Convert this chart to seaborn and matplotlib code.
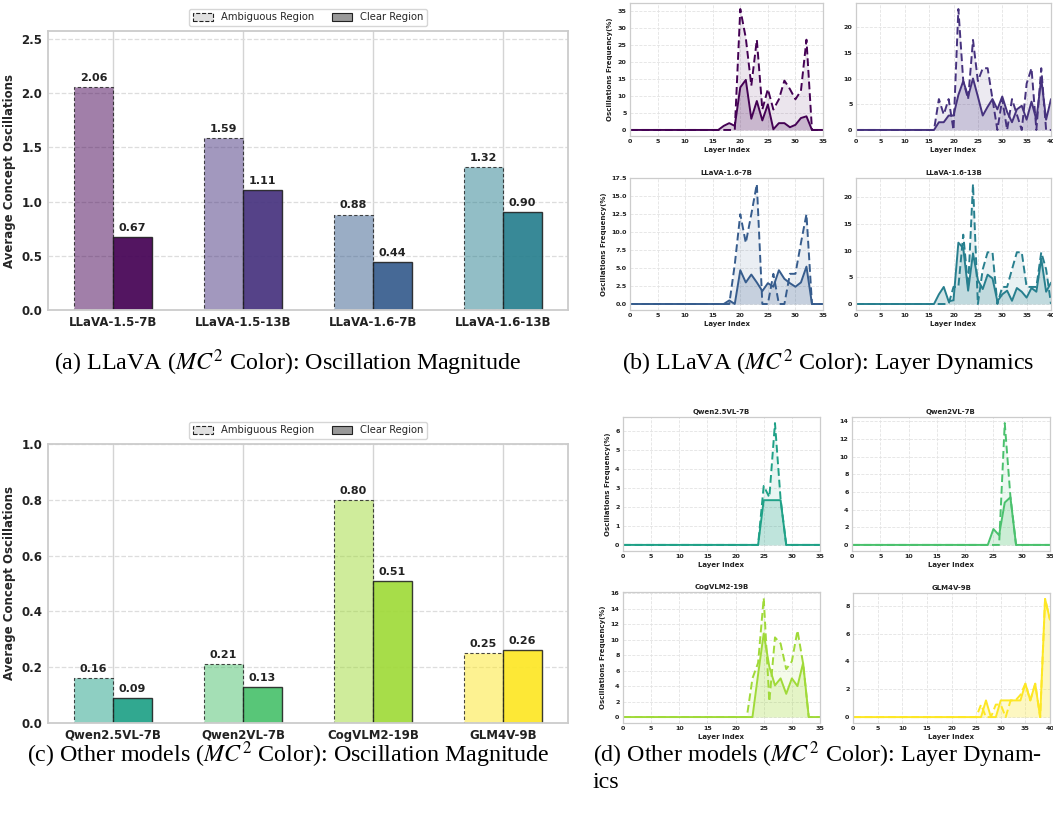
import numpy as np
import pandas as pd
import matplotlib
matplotlib.use("Agg")
import matplotlib.pyplot as plt
import seaborn as sns
from matplotlib.patches import Patch
from matplotlib.colors import to_rgba
from matplotlib.ticker import MultipleLocator

# ---------------- data ----------------
llava_models = ["LLaVA-1.5-7B", "LLaVA-1.5-13B", "LLaVA-1.6-7B", "LLaVA-1.6-13B"]
llava_amb = [2.06, 1.59, 0.88, 1.32]
llava_clr = [0.67, 1.11, 0.44, 0.90]

other_models = ["Qwen2.5VL-7B", "Qwen2VL-7B", "CogVLM2-19B", "GLM4V-9B"]
other_amb = [0.16, 0.21, 0.80, 0.25]
other_clr = [0.09, 0.13, 0.51, 0.26]

# layer dynamics (oscillation frequency %, per layer index)
l15_7b_amb = [0, 0, 0, 0, 0, 0, 0, 0, 0, 0, 0, 0, 0, 0, 0, 0, 0, 0, 0, 0,
              35.5, 27, 13, 26.5, 6, 12, 6, 9, 14.5, 12, 9, 11.5, 26.5, 0, 0, 0]
l15_7b_clr = [0, 0, 0, 0, 0, 0, 0, 0, 0, 0, 0, 0, 0, 0, 0, 0, 0, 1.2, 2, 1.2,
              12.5, 14.7, 3.3, 8.5, 2.8, 7.5, 0.2, 2, 2, 0.8, 1.5, 3.5, 4, 0, 0, 0]

l15_13b_amb = [0, 0, 0, 0, 0, 0, 0, 0, 0, 0, 0, 0, 0, 0, 0, 0, 0, 6, 3, 6,
               0, 23.5, 9.5, 6, 17.5, 9.5, 12, 12, 6, 0, 6, 0, 6, 3, 0, 9,
               12, 0, 12, 0, 0]
l15_13b_clr = [0, 0, 0, 0, 0, 0, 0, 0, 0, 0, 0, 0, 0, 0, 0, 0, 0, 1.5, 1.5, 2.8,
               2.8, 6.8, 9.5, 6.5, 10, 6.5, 2.8, 4.5, 6, 4, 6.5, 3.5, 1.5, 4, 4.7, 2,
               5.5, 2, 10, 2, 6]

l16_7b_amb = [0, 0, 0, 0, 0, 0, 0, 0, 0, 0, 0, 0, 0, 0, 0, 0, 0, 0, 0, 5.5,
              12.5, 8.5, 12.5, 16.7, 0, 0, 4.2, 0, 0, 4.2, 4.2, 8.5, 12.5, 0, 0, 0]
l16_7b_clr = [0, 0, 0, 0, 0, 0, 0, 0, 0, 0, 0, 0, 0, 0, 0, 0, 0, 0, 0.5, 0,
              4.7, 3, 4.1, 3, 1.8, 2.9, 2.4, 4.7, 3.5, 2.9, 2.4, 3, 5.2, 0, 0, 0]

l16_13b_amb = [0, 0, 0, 0, 0, 0, 0, 0, 0, 0, 0, 0, 0, 0, 0, 0, 0, 0, 0, 0,
               3.2, 3.2, 13, 3.2, 22.5, 0, 6.5, 9.7, 9.7, 0, 3.2, 3.2, 6.5, 9.7, 9.7, 3.2,
               3.2, 3.2, 9.7, 6.5, 0]
l16_13b_clr = [0, 0, 0, 0, 0, 0, 0, 0, 0, 0, 0, 0, 0, 0, 0, 0, 0, 1.8, 3.2, 0.5,
               0.7, 11.5, 10.5, 2.5, 9.5, 4.5, 2.8, 5.5, 4.8, 0.5, 1.8, 2.5, 0.6, 3, 2.3, 1.2,
               3, 2.3, 8.5, 2.3, 4]

qwen25_amb = [0, 0, 0, 0, 0, 0, 0, 0, 0, 0, 0, 0, 0, 0, 0, 0, 0, 0, 0, 0,
              0, 0, 0, 0, 0, 3.1, 2.5, 6.4, 2.4, 0, 0, 0, 0, 0, 0, 0]
qwen25_clr = [0, 0, 0, 0, 0, 0, 0, 0, 0, 0, 0, 0, 0, 0, 0, 0, 0, 0, 0, 0,
              0, 0, 0, 0, 0, 2.35, 2.35, 2.35, 2.35, 0, 0, 0, 0, 0, 0, 0]

qwen2_amb = [0, 0, 0, 0, 0, 0, 0, 0, 0, 0, 0, 0, 0, 0, 0, 0, 0, 0, 0, 0,
             0, 0, 0, 0, 0, 0, 0, 13.8, 5.5, 0, 0, 0, 0, 0, 0, 0]
qwen2_clr = [0, 0, 0, 0, 0, 0, 0, 0, 0, 0, 0, 0, 0, 0, 0, 0, 0, 0, 0, 0,
             0, 0, 0, 0, 0, 1.8, 1.1, 4.8, 5.4, 0, 0, 0, 0, 0, 0, 0]

cog_amb = [0, 0, 0, 0, 0, 0, 0, 0, 0, 0, 0, 0, 0, 0, 0, 0, 0, 0, 0, 0,
           0, 0, 0, 5, 7, 15.4, 2, 10.3, 9.5, 6.2, 7.2, 11.2, 6.9, 0, 0, 0]
cog_clr = [0, 0, 0, 0, 0, 0, 0, 0, 0, 0, 0, 0, 0, 0, 0, 0, 0, 0, 0, 0,
           0, 0, 0, 0, 5.5, 10.8, 6.5, 4.1, 5, 3, 5, 4, 7, 0, 0, 0]

glm_amb = [0, 0, 0, 0, 0, 0, 0, 0, 0, 0, 0, 0, 0, 0, 0, 0, 0, 0, 0, 0,
           0, 0, 0, 0, 0, 0, 0.9, 0, 0, 0.9, 0.9, 0, 1.2, 1.2, 1.6, 2.4,
           1.2, 2.4, 0, 8.5, 7]
glm_clr = [0, 0, 0, 0, 0, 0, 0, 0, 0, 0, 0, 0, 0, 0, 0, 0, 0, 0, 0, 0,
           0, 0, 0, 0, 0, 0, 0, 1.2, 0, 0, 1.2, 1.2, 1.2, 1.2, 1.2, 2.4,
           1.2, 2.4, 0, 8.5, 7]

captions = [
    r"(a) LLaVA ($MC^2$ Color): Oscillation Magnitude",
    r"(b) LLaVA ($MC^2$ Color): Layer Dynamics",
    r"(c) Other models ($MC^2$ Color): Oscillation Magnitude",
    r"(d) Other models ($MC^2$ Color): Layer Dynam-",
    "ics",
]

# ---------------- style ----------------
sns.set_theme(style="whitegrid")
plt.rcParams["font.family"] = ["DejaVu Sans"]
plt.rcParams["mathtext.fontset"] = "stix"

colors = [plt.cm.viridis(v) for v in np.linspace(0, 1, 8)]
llava_colors = colors[:4]
other_colors = colors[4:]

W, H = 1053, 817
fig = plt.figure(figsize=(W / 100, H / 100), dpi=100)


def add_ax(x0, y0, x1, y1):
    return fig.add_axes([x0 / W, 1 - y1 / H, (x1 - x0) / W, (y1 - y0) / H])


def bar_panel(ax, models, amb, clr, cols):
    df = pd.DataFrame({
        "Model": models + models,
        "Value": amb + clr,
        "Region": ["Ambiguous Region"] * len(models) + ["Clear Region"] * len(models),
    })
    ax.set_axisbelow(True)
    sns.barplot(data=df, x="Model", y="Value", hue="Region", width=0.6,
                errorbar=None, saturation=1, legend=False, ax=ax)
    c_amb, c_clr = ax.containers[0], ax.containers[1]
    for i, (pa, pc) in enumerate(zip(c_amb, c_clr)):
        pa.set_facecolor(to_rgba(cols[i], 0.5))
        pa.set_edgecolor((0.1, 0.1, 0.1, 0.8))
        pa.set_linestyle((0, (3, 2)))
        pa.set_linewidth(0.8)
        pc.set_facecolor(to_rgba(cols[i], 0.92))
        pc.set_edgecolor((0.1, 0.1, 0.1, 0.85))
        pc.set_linewidth(1.0)
    for cont in (c_amb, c_clr):
        ax.bar_label(cont, fmt="%.2f", padding=3, fontsize=8, fontweight="bold",
                     color="#222222")
    ax.set_ylim(0, max(amb + clr) * 1.25)
    ax.set_xlim(-0.5, len(models) - 0.5)
    ax.set_xlabel("")
    ax.set_ylabel("Average Concept Oscillations", fontsize=8.5, fontweight="bold")
    ax.grid(axis="y", linestyle="--", color="#dddddd", linewidth=0.9)
    ax.grid(axis="x", linestyle="-", color="#d4d4d4", linewidth=1.0)
    ax.tick_params(axis="both", labelsize=8.5, length=0, pad=4)
    for t in ax.get_xticklabels() + ax.get_yticklabels():
        t.set_fontweight("bold")
        t.set_color("#222222")
    for s in ax.spines.values():
        s.set_color("#cccccc")
        s.set_linewidth(1.3)
    handles = [Patch(facecolor="#e0e0e0", edgecolor="#222222", linestyle="--",
                     linewidth=0.8, label="Ambiguous Region"),
               Patch(facecolor="#999999", edgecolor="#222222", linewidth=0.8,
                     label="Clear Region")]
    leg = ax.legend(handles=handles, loc="lower center", bbox_to_anchor=(0.5, 1.018),
                    ncol=2, fontsize=7.2, frameon=True, borderaxespad=0,
                    handlelength=2.0, handleheight=0.8, columnspacing=1.8,
                    borderpad=0.35)
    leg.get_frame().set_edgecolor("#cccccc")


def line_panel(ax, amb, clr, color, title, ystep, ylabel=True):
    x = np.arange(len(amb))
    sns.lineplot(x=x, y=amb, ax=ax, color=color, linewidth=1.4, linestyle=(0, (4, 2)))
    ax.fill_between(x, amb, color=color, alpha=0.1, linewidth=0)
    sns.lineplot(x=x, y=clr, ax=ax, color=color, linewidth=1.4)
    ax.fill_between(x, clr, color=color, alpha=0.2, linewidth=0)
    ax.set_xlim(0, len(amb) - 1)
    ax.xaxis.set_major_locator(MultipleLocator(5))
    ax.yaxis.set_major_locator(MultipleLocator(ystep))
    ax.set_title(title, fontsize=5, fontweight="bold", pad=2.5, color="#222222")
    ax.set_xlabel("Layer Index", fontsize=5, fontweight="bold", labelpad=1.5,
                  color="#222222")
    if ylabel:
        ax.set_ylabel("Oscillations Frequency(%)", fontsize=5, fontweight="bold",
                      labelpad=3, color="#222222")
    else:
        ax.set_ylabel("")
    ax.tick_params(axis="both", labelsize=4.6, length=0, pad=2.5)
    for t in ax.get_xticklabels() + ax.get_yticklabels():
        t.set_fontweight("bold")
        t.set_color("#222222")
    ax.grid(True, linestyle="--", color="#e3e3e3", linewidth=0.6)
    for s in ax.spines.values():
        s.set_color("#cccccc")
        s.set_linewidth(0.9)


# (a)
ax_a = add_ax(48, 31, 568, 310)
bar_panel(ax_a, llava_models, llava_amb, llava_clr, llava_colors)
# (c)
ax_c = add_ax(48, 444, 568, 723)
bar_panel(ax_c, other_models, other_amb, other_clr, other_colors)

# (b)
line_panel(add_ax(630, 3, 823, 136), l15_7b_amb, l15_7b_clr, llava_colors[0], "LLaVA-1.5-7B", 5)
line_panel(add_ax(856, 3, 1051, 136), l15_13b_amb, l15_13b_clr, llava_colors[1], "LLaVA-1.5-13B", 5, False)
line_panel(add_ax(630, 178, 823, 310), l16_7b_amb, l16_7b_clr, llava_colors[2], "LLaVA-1.6-7B", 2.5)
line_panel(add_ax(856, 178, 1051, 310), l16_13b_amb, l16_13b_clr, llava_colors[3], "LLaVA-1.6-13B", 5, False)

# (d)
line_panel(add_ax(623, 417, 820, 551), qwen25_amb, qwen25_clr, other_colors[0], "Qwen2.5VL-7B", 1)
line_panel(add_ax(852, 417, 1050, 551), qwen2_amb, qwen2_clr, other_colors[1], "Qwen2VL-7B", 2, False)
line_panel(add_ax(623, 592, 820, 723), cog_amb, cog_clr, other_colors[2], "CogVLM2-19B", 2)
line_panel(add_ax(853, 593, 1050, 723), glm_amb, glm_clr, other_colors[3], "GLM4V-9B", 2, False)

# captions
cap_kw = dict(fontsize=17.3, family="Liberation Serif", color="black")
fig.text(288 / W, 1 - 363 / H, captions[0], ha="center", va="center", **cap_kw)
fig.text(828 / W, 1 - 363 / H, captions[1], ha="center", va="center", **cap_kw)
fig.text(288 / W, 1 - 755 / H, captions[2], ha="center", va="center", **cap_kw)
fig.text(593 / W, 1 - 755 / H, captions[3], ha="left", va="center", **cap_kw)
fig.text(593 / W, 1 - 782 / H, captions[4], ha="left", va="center", **cap_kw)

fig.savefig("out.png", dpi=100)
